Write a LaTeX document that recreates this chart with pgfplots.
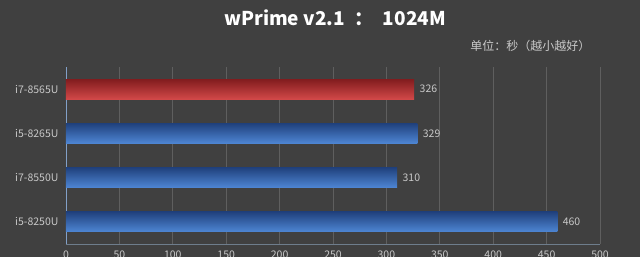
\documentclass[border=0pt]{standalone}
\usepackage{fontspec}
\setmainfont{Noto Sans CJK SC}
\usepackage{pgfplots}
\pgfplotsset{compat=1.18}
\definecolor{bg}{RGB}{64,64,64}
\definecolor{gridc}{RGB}{95,95,95}
\definecolor{tickc}{RGB}{200,200,200}
\definecolor{axc}{RGB}{130,160,200}
\definecolor{axb}{RGB}{110,125,140}
\definecolor{rtop}{RGB}{130,28,30}
\definecolor{rmid}{RGB}{195,58,60}
\definecolor{rbot}{RGB}{210,72,72}
\definecolor{btop}{RGB}{32,65,125}
\definecolor{bmid}{RGB}{62,118,198}
\definecolor{bbot}{RGB}{78,134,212}
\begin{document}
\begin{tikzpicture}[x=1pt,y=1pt]
\fill[bg] (-66,-13) rectangle (574,244);
\useasboundingbox (-66,-13) rectangle (574,244);
\node[white,font=\fontsize{19}{22}\selectfont\bfseries] at (269,226) {wPrime v2.1\enspace ：\enspace 1024M};
\node[tickc,anchor=east,font=\fontsize{12}{14}\selectfont] at (528,198) {单位：秒（越小越好）};
\begin{axis}[at={(0,0)}, anchor=south west, scale only axis,
  width=534pt, height=177pt,
  xmin=0, xmax=500, ymin=-0.5, ymax=3.5,
  xtick={0,50,...,500}, ytick={0,1,2,3},
  yticklabels={i5-8250U,i7-8550U,i5-8265U,i7-8565U},
  xmajorgrids, grid style={gridc, line width=0.8pt},
  axis x line*=bottom, axis y line*=left,
  x axis line style={-, axb, line width=1pt},
  y axis line style={-, axc, line width=0.8pt},
  major tick length=0pt,
  /pgf/number format/assume math mode=true,
  ticklabel style={color=tickc, font=\fontsize{10.5}{12}\selectfont},
  yticklabel style={xshift=-4pt},
  xticklabel style={yshift=-3pt},
  xbar, bar width=20pt,
  nodes near coords,
  nodes near coords style={color=tickc, font=\fontsize{10.5}{12}\selectfont, xshift=2pt},
]
\addplot[bar shift=0pt, draw=none, top color=rtop, middle color=rmid, bottom color=rbot] coordinates {(326,3)};
\addplot[bar shift=0pt, draw=none, top color=btop, middle color=bmid, bottom color=bbot] coordinates {(329,2)};
\addplot[bar shift=0pt, draw=none, top color=btop, middle color=bmid, bottom color=bbot] coordinates {(310,1)};
\addplot[bar shift=0pt, draw=none, top color=btop, middle color=bmid, bottom color=bbot] coordinates {(460,0)};
\end{axis}
\end{tikzpicture}
\end{document}
